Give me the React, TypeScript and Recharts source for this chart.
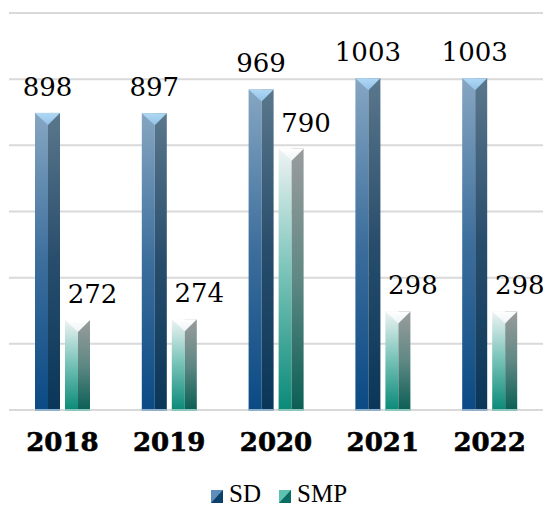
import { BarChart, Bar, XAxis, YAxis, CartesianGrid, LabelList, Legend } from 'recharts';

const years = ['2018', '2019', '2020', '2021', '2022'];
const sdValues = [898, 897, 969, 1003, 1003];
const smpValues = [272, 274, 790, 298, 298];
const yTicks = [0, 200, 400, 600, 800, 1000, 1200];

const data = years.map((year, i) => ({ year, SD: sdValues[i], SMP: smpValues[i] }));

const LABEL_FONT = '"DejaVu Serif", serif';
const LEGEND_FONT = '"Liberation Serif", "Times New Roman", serif';

// column with a flat top seen from above: light triangle, lit left face, shaded right face
function prism(kind: 'sd' | 'smp') {
    return (props: any) => {
        const { x, y, width, height } = props;
        if (!height || height <= 0) return <g />;
        const mid = x + width * 0.52;
        const tip = width * 0.48;
        return (
            <g>
                <rect x={x} y={y} width={mid - x} height={height} fill={`url(#${kind}Left)`} />
                <rect x={mid} y={y} width={x + width - mid} height={height} fill={`url(#${kind}Right)`} />
                <polygon points={`${x},${y} ${x + width},${y} ${mid},${y + tip}`} fill={`url(#${kind}Top)`} />
                <rect x={x} y={y + height - 1} width={width} height={2} fill={kind === 'sd' ? '#8fb0c8' : '#8cc6bd'} />
            </g>
        );
    };
}

function valueLabel(dx: number) {
    return (props: any) => {
        const { x, y, width, value } = props;
        return (
            <text
                x={x + width / 2 + dx}
                y={y - 17}
                textAnchor="middle"
                fontFamily={LABEL_FONT}
                fontSize={26}
                fill="#000"
            >
                {value}
            </text>
        );
    };
}

function legendIcon(x: number, kind: 'sd' | 'smp') {
    const dark = kind === 'sd' ? '#0d3f6b' : '#0b6d62';
    const light = kind === 'sd' ? '#5d8db8' : '#5fc1b2';
    return (
        <g>
            <rect x={x} y={14} width={12} height={13} fill={dark} />
            <polygon points={`${x},14 ${x + 12},14 ${x},27`} fill={light} />
        </g>
    );
}

function renderLegend() {
    return (
        <svg width={545} height={32} style={{ display: 'block' }}>
            {legendIcon(211, 'sd')}
            <text x={229} y={26} fontFamily={LEGEND_FONT} fontSize={25} fill="#000">SD</text>
            {legendIcon(279, 'smp')}
            <text x={297} y={26} fontFamily={LEGEND_FONT} fontSize={25} fill="#000">SMP</text>
        </svg>
    );
}

export default function App() {
    return (
        <div style={{ position: 'absolute', left: 0, top: 0, width: 545, height: 508, background: '#fff' }}>
            <BarChart
                width={545}
                height={508}
                data={data}
                margin={{ top: 13, right: 2, left: 9, bottom: 38 }}
                barSize={25}
                barGap={5}
            >
                <defs>
                    <linearGradient id="sdLeft" x1="0" y1="0" x2="0" y2="1">
                        <stop offset="0%" stopColor="#86a6c2" />
                        <stop offset="50%" stopColor="#3c6e9c" />
                        <stop offset="100%" stopColor="#0b4a85" />
                    </linearGradient>
                    <linearGradient id="sdRight" x1="0" y1="0" x2="0" y2="1">
                        <stop offset="0%" stopColor="#5a778c" />
                        <stop offset="50%" stopColor="#284d6c" />
                        <stop offset="100%" stopColor="#0a3659" />
                    </linearGradient>
                    <linearGradient id="sdTop" x1="0" y1="0" x2="0" y2="1">
                        <stop offset="0%" stopColor="#b0d8f4" />
                        <stop offset="100%" stopColor="#92c2e8" />
                    </linearGradient>
                    <linearGradient id="smpLeft" x1="0" y1="0" x2="0" y2="1">
                        <stop offset="0%" stopColor="#eef3f3" />
                        <stop offset="45%" stopColor="#7fc6bc" />
                        <stop offset="100%" stopColor="#0a8a78" />
                    </linearGradient>
                    <linearGradient id="smpRight" x1="0" y1="0" x2="0" y2="1">
                        <stop offset="0%" stopColor="#9a9c9c" />
                        <stop offset="50%" stopColor="#5f8884" />
                        <stop offset="100%" stopColor="#0b5f55" />
                    </linearGradient>
                    <linearGradient id="smpTop" x1="0" y1="0" x2="0" y2="1">
                        <stop offset="0%" stopColor="#ffffff" />
                        <stop offset="100%" stopColor="#eef4f4" />
                    </linearGradient>
                </defs>
                <CartesianGrid vertical={false} stroke="#d9d9d9" strokeWidth={2} />
                <XAxis
                    dataKey="year"
                    axisLine={false}
                    tickLine={false}
                    tickSize={0}
                    tickMargin={23}
                    height={60}
                    tick={{ fontFamily: LABEL_FONT, fontSize: 26, fontWeight: 900, fill: '#000', stroke: '#000', strokeWidth: 0.6 }}
                />
                <YAxis hide domain={[0, 1200]} ticks={yTicks} />
                <Legend
                    content={renderLegend}
                    layout="horizontal"
                    verticalAlign="middle"
                    align="center"
                    wrapperStyle={{ position: 'absolute', top: 476, left: 0, width: 545, height: 32 }}
                />
                <Bar dataKey="SD" name="SD" shape={prism('sd')} isAnimationActive={false}>
                    <LabelList dataKey="SD" content={valueLabel(0)} />
                </Bar>
                <Bar dataKey="SMP" name="SMP" shape={prism('smp')} isAnimationActive={false}>
                    <LabelList dataKey="SMP" content={valueLabel(15)} />
                </Bar>
            </BarChart>
        </div>
    );
}
